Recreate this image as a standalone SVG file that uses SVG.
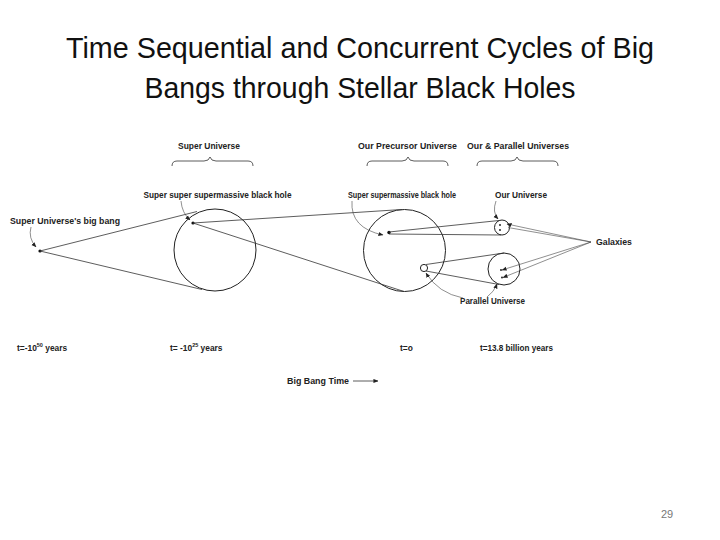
<svg xmlns="http://www.w3.org/2000/svg" width="720" height="540" viewBox="0 0 720 540">
<defs>
<style>
.title{font-family:"Liberation Sans",Arial,sans-serif;font-size:29px;fill:#111}
.lbl{font-family:"Liberation Sans",Arial,sans-serif;font-size:8.4px;font-weight:bold;fill:#222}
.ln{fill:none;stroke:#333;stroke-width:0.8}
.thin{fill:none;stroke:#444;stroke-width:0.6}
.circ{fill:none;stroke:#222;stroke-width:1}
.dot{fill:#111}
</style>
<marker id="ah" viewBox="0 0 6 6" refX="5.5" refY="3" markerWidth="5" markerHeight="5" orient="auto" markerUnits="userSpaceOnUse">
<path d="M0,0.5 L6,3 L0,5.5 Z" fill="#222"/>
</marker>
</defs>
<rect width="720" height="540" fill="#fff"/>
<g id="title">
<text class="title" x="360" y="58" text-anchor="middle" textLength="588" lengthAdjust="spacingAndGlyphs">Time Sequential and Concurrent Cycles of Big</text>
<text class="title" x="360" y="98" text-anchor="middle" textLength="431" lengthAdjust="spacingAndGlyphs">Bangs through Stellar Black Holes</text>
</g>
<g id="braces">
<text class="lbl" x="178" y="149" textLength="62" lengthAdjust="spacingAndGlyphs">Super Universe</text>
<path class="ln" d="M172,166 Q172,161 177,161 L204,161 Q209,161 210,157 Q211,161 216,161 L248,161 Q253,161 253,166"/>
<text class="lbl" x="358" y="149" textLength="99" lengthAdjust="spacingAndGlyphs">Our Precursor Universe</text>
<path class="ln" d="M367,166 Q367,161 372,161 L402,161 Q407,161 408,157 Q409,161 414,161 L443,161 Q448,161 448,166"/>
<text class="lbl" x="467" y="149" textLength="102" lengthAdjust="spacingAndGlyphs">Our &amp; Parallel Universes</text>
<path class="ln" d="M477,166 Q477,161 482,161 L511,161 Q516,161 517,157 Q518,161 523,161 L553,161 Q558,161 558,166"/>
</g>
<g id="super-universe">
<circle class="circ" cx="215" cy="250" r="41"/>
<circle class="dot" cx="193" cy="223" r="1.6"/>
</g>
<g id="precursor-universe">
<circle class="circ" cx="404.5" cy="250.5" r="41"/>
<circle class="dot" cx="389" cy="232.5" r="1.7"/>
<circle class="circ" cx="424" cy="268" r="3.6"/>
</g>
<g id="our-universe">
<circle class="circ" cx="502" cy="227.5" r="7.5"/>
<circle class="dot" cx="500" cy="225" r="0.9"/>
<circle class="dot" cx="500" cy="230" r="0.9"/>
</g>
<g id="parallel-universe">
<circle class="circ" cx="504" cy="269" r="16"/>
<circle class="dot" cx="501" cy="270" r="0.9"/>
<circle class="dot" cx="502" cy="277.5" r="0.9"/>
</g>
<g id="big-bang">
<circle class="dot" cx="40" cy="251" r="1.6"/>
<text class="lbl" x="10" y="223.5" textLength="110" lengthAdjust="spacingAndGlyphs">Super Universe's big bang</text>
</g>
<g id="labels">
<text class="lbl" x="143.5" y="198" textLength="148" lengthAdjust="spacingAndGlyphs">Super super supermassive black hole</text>
<text class="lbl" x="348" y="197.5" textLength="108" lengthAdjust="spacingAndGlyphs">Super supermassive black hole</text>
<text class="lbl" x="495" y="197.5" textLength="52" lengthAdjust="spacingAndGlyphs">Our Universe</text>
<text class="lbl" x="596" y="244.5" textLength="36" lengthAdjust="spacingAndGlyphs">Galaxies</text>
<text class="lbl" x="460" y="304" textLength="65" lengthAdjust="spacingAndGlyphs">Parallel Universe</text>
<text class="lbl" x="17" y="350.5">t=-10<tspan font-size="5.5" dy="-3.5">50</tspan><tspan dy="3.5"> years</tspan></text>
<text class="lbl" x="170" y="350.5" font-weight="normal">t= -10<tspan font-size="5.5" dy="-3.5">25</tspan><tspan dy="3.5" font-weight="bold"> years</tspan></text>
<text class="lbl" x="400" y="350.5">t=o</text>
<text class="lbl" x="480" y="350.5" textLength="73" lengthAdjust="spacingAndGlyphs">t=13.8 billion years</text>
<text class="lbl" x="287" y="384" textLength="62" lengthAdjust="spacingAndGlyphs">Big Bang Time</text>
<text x="667" y="518" text-anchor="middle" font-family="Liberation Sans,Arial,sans-serif" font-size="11" fill="#777">29</text>
</g>
<g id="connectors">
<path class="ln" d="M40,251 L197,211.5"/>
<path class="ln" d="M40,251 L202,289.5"/>
<path class="ln" d="M193,223 L402,209.5"/>
<path class="ln" d="M193,223 L404,291.5"/>
<path class="ln" d="M389,232 L499,220.5"/>
<path class="ln" d="M389,234 L501,235"/>
<path class="ln" d="M426,264.5 L504,253"/>
<path class="ln" d="M426,271 L499,284.5"/>
<path class="thin" d="M591,242 L507,224" marker-end="url(#ah)"/>
<path class="thin" d="M591,242 L508,227.5"/>
<path class="thin" d="M591,242 L502,270" marker-end="url(#ah)"/>
<path class="thin" d="M591,242 L503,277.5" marker-end="url(#ah)"/>
<path class="thin" d="M31,227 Q28,238 36,247" marker-end="url(#ah)"/>
<path class="thin" d="M181,201 Q182,213 190,220" marker-end="url(#ah)"/>
<path class="thin" d="M352,201 Q350,228 383,235" marker-end="url(#ah)"/>
<path class="thin" d="M496,201 Q492,212 498,219" marker-end="url(#ah)"/>
<path class="thin" d="M463,298 Q438,293 426,273" marker-end="url(#ah)"/>
<path class="thin" d="M487,297 Q494,292 497,284" marker-end="url(#ah)"/>
<path class="ln" d="M353,381 L378,381" marker-end="url(#ah)"/>
</g>
</svg>
